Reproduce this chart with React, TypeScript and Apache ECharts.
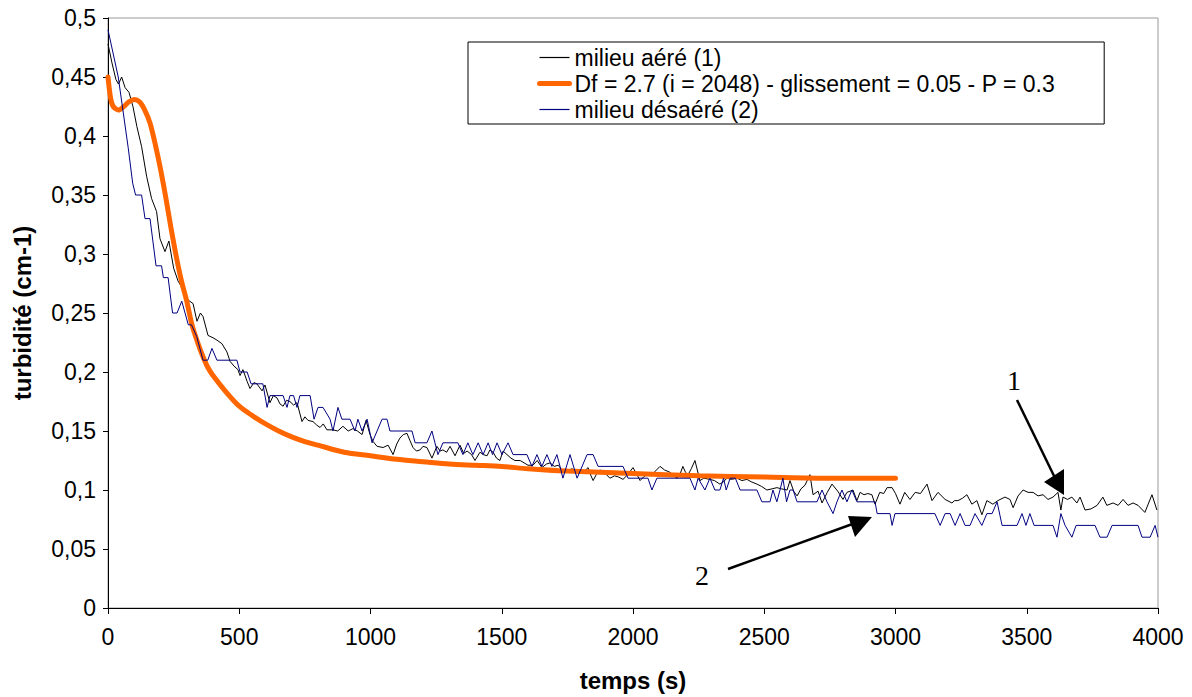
import React, { useEffect, useRef } from "react";
import * as echarts from "echarts";

const xTicks = [0, 500, 1000, 1500, 2000, 2500, 3000, 3500, 4000];
const yTicks = [0, 0.05, 0.1, 0.15, 0.2, 0.25, 0.3, 0.35, 0.4, 0.45, 0.5];

const seriesNames = [
  "milieu aéré (1)",
  "Df = 2.7 (i = 2048) - glissement = 0.05 - P = 0.3",
  "milieu désaéré (2)",
];

const aere: number[][] = [
  [0, 0.478], [15, 0.462], [30, 0.448], [40, 0.444], [52, 0.45], [65, 0.441], [80, 0.437], [95, 0.425],
  [110, 0.408], [128, 0.391], [147, 0.366], [166, 0.347], [185, 0.336], [198, 0.313], [217, 0.302],
  [232, 0.311], [250, 0.288], [267, 0.277], [286, 0.27], [305, 0.261], [324, 0.258], [339, 0.243],
  [352, 0.25], [362, 0.247], [381, 0.231], [400, 0.229], [415, 0.227], [434, 0.224], [453, 0.217],
  [465, 0.209], [480, 0.205], [495, 0.202], [503, 0.197], [514, 0.202], [530, 0.192], [541, 0.186],
  [556, 0.191], [567, 0.19], [587, 0.184], [598, 0.189], [617, 0.174], [630, 0.18], [644, 0.178],
  [655, 0.173], [667, 0.171], [680, 0.176], [693, 0.175], [707, 0.172], [720, 0.174], [739, 0.158],
  [750, 0.162], [762, 0.159], [781, 0.158], [795, 0.155], [808, 0.153], [820, 0.156], [834, 0.151],
  [857, 0.151], [875, 0.15], [895, 0.154], [915, 0.15], [933, 0.152], [950, 0.15], [968, 0.147],
  [983, 0.159], [998, 0.147], [1010, 0.141], [1025, 0.137], [1048, 0.136], [1067, 0.138], [1086, 0.13],
  [1100, 0.139], [1112, 0.144], [1125, 0.147], [1139, 0.148], [1150, 0.142], [1162, 0.136], [1175, 0.133],
  [1189, 0.134], [1200, 0.137], [1215, 0.136], [1234, 0.127], [1253, 0.137], [1265, 0.133], [1276, 0.134],
  [1290, 0.132], [1303, 0.137], [1322, 0.129], [1341, 0.138], [1355, 0.131], [1368, 0.133], [1385, 0.13],
  [1398, 0.125], [1417, 0.132], [1430, 0.13], [1444, 0.129], [1455, 0.134], [1467, 0.132], [1480, 0.127],
  [1493, 0.125], [1505, 0.133], [1520, 0.13], [1535, 0.127], [1550, 0.125], [1570, 0.125], [1585, 0.123],
  [1600, 0.121], [1619, 0.121], [1635, 0.125], [1653, 0.119], [1670, 0.122], [1684, 0.123], [1700, 0.12],
  [1715, 0.121], [1730, 0.117], [1749, 0.115], [1765, 0.118], [1780, 0.117], [1798, 0.116], [1815, 0.116],
  [1829, 0.119], [1840, 0.112], [1848, 0.108], [1860, 0.113], [1874, 0.117], [1890, 0.115], [1912, 0.11],
  [1930, 0.112], [1945, 0.111], [1962, 0.109], [1980, 0.113], [2000, 0.119], [2015, 0.113], [2027, 0.108],
  [2040, 0.111], [2053, 0.113], [2070, 0.112], [2085, 0.116], [2103, 0.12], [2120, 0.117], [2141, 0.115],
  [2155, 0.112], [2168, 0.11], [2180, 0.114], [2190, 0.12], [2200, 0.115], [2210, 0.113], [2222, 0.118],
  [2236, 0.125], [2255, 0.108], [2270, 0.11], [2293, 0.109], [2310, 0.108], [2331, 0.105], [2345, 0.107],
  [2358, 0.11], [2375, 0.109], [2396, 0.11], [2415, 0.108], [2434, 0.109], [2450, 0.107], [2472, 0.105],
  [2490, 0.103], [2510, 0.1], [2530, 0.101], [2548, 0.102], [2565, 0.101], [2587, 0.1], [2598, 0.108],
  [2612, 0.099], [2625, 0.095], [2640, 0.101], [2655, 0.104], [2674, 0.113], [2686, 0.096], [2705, 0.099],
  [2720, 0.089], [2740, 0.098], [2758, 0.105], [2780, 0.099], [2800, 0.092], [2815, 0.098], [2827, 0.099],
  [2838, 0.1], [2853, 0.091], [2865, 0.098], [2880, 0.096], [2895, 0.097], [2910, 0.096], [2922, 0.088],
  [2940, 0.098], [2955, 0.097], [2968, 0.102], [2987, 0.102], [3000, 0.097], [3017, 0.088], [3035, 0.098],
  [3055, 0.092], [3075, 0.098], [3095, 0.097], [3120, 0.105], [3139, 0.091], [3162, 0.098], [3189, 0.092],
  [3215, 0.089], [3225, 0.091], [3238, 0.091], [3255, 0.093], [3272, 0.096], [3291, 0.088], [3310, 0.091],
  [3329, 0.079], [3348, 0.091], [3371, 0.088], [3390, 0.091], [3417, 0.094], [3436, 0.092], [3448, 0.085],
  [3467, 0.095], [3486, 0.1], [3505, 0.098], [3524, 0.098], [3543, 0.095], [3562, 0.096], [3581, 0.092],
  [3600, 0.094], [3619, 0.098], [3630, 0.083], [3638, 0.094], [3655, 0.092], [3672, 0.094], [3691, 0.089],
  [3703, 0.094], [3722, 0.083], [3745, 0.084], [3768, 0.087], [3790, 0.094], [3805, 0.087], [3829, 0.089],
  [3848, 0.087], [3867, 0.092], [3886, 0.087], [3905, 0.089], [3924, 0.087], [3950, 0.081], [3977, 0.096],
  [3996, 0.083],
];

const modele: number[][] = [
  [0, 0.45], [10, 0.432], [20, 0.425], [40, 0.422], [60, 0.425], [80, 0.429], [100, 0.431], [120, 0.429],
  [140, 0.422], [160, 0.411], [180, 0.393], [200, 0.372], [220, 0.348], [240, 0.322], [260, 0.298],
  [280, 0.277], [300, 0.26], [320, 0.24], [340, 0.226], [360, 0.214], [380, 0.204], [400, 0.197],
  [450, 0.183], [500, 0.171], [550, 0.163], [600, 0.156], [650, 0.15], [700, 0.145], [750, 0.141],
  [800, 0.138], [900, 0.132], [1000, 0.129], [1100, 0.126], [1200, 0.124], [1300, 0.122], [1400, 0.121],
  [1500, 0.12], [1600, 0.118], [1750, 0.116], [2000, 0.114], [2250, 0.112], [2500, 0.111], [2750, 0.11],
  [3000, 0.11],
];

const desaere: number[][] = [
  [0, 0.49], [39, 0.45], [77, 0.39], [94, 0.36], [105, 0.35], [128, 0.35], [141, 0.33], [160, 0.33],
  [183, 0.29], [204, 0.29], [211, 0.28], [229, 0.28], [246, 0.25], [263, 0.25], [281, 0.26], [306, 0.24],
  [318, 0.24], [338, 0.23], [350, 0.22], [362, 0.21], [380, 0.21], [396, 0.22], [415, 0.21], [491, 0.21],
  [503, 0.2], [530, 0.2], [545, 0.19], [590, 0.19], [606, 0.17], [617, 0.18], [667, 0.18], [682, 0.17],
  [693, 0.18], [707, 0.18], [720, 0.17], [731, 0.18], [770, 0.18], [785, 0.16], [800, 0.17], [819, 0.17],
  [846, 0.16], [857, 0.15], [876, 0.17], [891, 0.16], [922, 0.16], [941, 0.15], [952, 0.16], [968, 0.15],
  [987, 0.16], [1006, 0.14], [1025, 0.15], [1044, 0.16], [1063, 0.16], [1074, 0.15], [1158, 0.15],
  [1170, 0.14], [1215, 0.14], [1234, 0.15], [1257, 0.13], [1276, 0.14], [1333, 0.14], [1352, 0.13],
  [1371, 0.14], [1390, 0.13], [1410, 0.14], [1429, 0.13], [1448, 0.14], [1465, 0.13], [1482, 0.14],
  [1501, 0.13], [1524, 0.14], [1543, 0.13], [1596, 0.13], [1615, 0.12], [1634, 0.13], [1653, 0.12],
  [1672, 0.13], [1691, 0.12], [1710, 0.13], [1722, 0.12], [1733, 0.11], [1760, 0.13], [1787, 0.11],
  [1825, 0.13], [1848, 0.13], [1867, 0.12], [1962, 0.12], [1981, 0.11], [2057, 0.11], [2072, 0.1],
  [2091, 0.11], [2217, 0.11], [2236, 0.1], [2248, 0.11], [2274, 0.1], [2293, 0.11], [2312, 0.1],
  [2331, 0.1], [2345, 0.11], [2355, 0.1], [2370, 0.11], [2390, 0.11], [2408, 0.1], [2472, 0.1],
  [2491, 0.09], [2522, 0.09], [2533, 0.1], [2548, 0.09], [2560, 0.1], [2571, 0.11], [2585, 0.09],
  [2598, 0.1], [2610, 0.1], [2625, 0.09], [2701, 0.09], [2720, 0.1], [2739, 0.09], [2762, 0.08],
  [2777, 0.09], [2796, 0.1], [2815, 0.09], [2834, 0.1], [2853, 0.09], [2922, 0.09], [2930, 0.08],
  [2979, 0.08], [2987, 0.07], [2998, 0.08], [3150, 0.08], [3170, 0.07], [3189, 0.08], [3208, 0.08],
  [3227, 0.07], [3246, 0.08], [3265, 0.07], [3284, 0.07], [3303, 0.08], [3329, 0.07], [3348, 0.08],
  [3368, 0.08], [3387, 0.09], [3406, 0.07], [3463, 0.07], [3482, 0.08], [3497, 0.07], [3512, 0.08],
  [3528, 0.07], [3600, 0.07], [3615, 0.06], [3630, 0.08], [3646, 0.07], [3672, 0.06], [3688, 0.07],
  [3760, 0.07], [3779, 0.06], [3806, 0.06], [3825, 0.07], [3924, 0.07], [3939, 0.06], [3970, 0.06],
  [3989, 0.07], [4000, 0.06],
];

const FONT = "'Liberation Sans', Arial, sans-serif";
const SERIF = "'Liberation Serif', 'Times New Roman', serif";

export default function App() {
  const ref = useRef<HTMLDivElement>(null);
  useEffect(() => {
    if (!ref.current) return;
    const chart = echarts.init(ref.current, undefined, { renderer: "svg" });
    chart.setOption({
      animation: false,
      backgroundColor: "#fff",
      textStyle: { fontFamily: FONT },
      grid: {
        left: 108, right: 34, top: 18, bottom: 86,
        show: true, borderColor: "#999", borderWidth: 1, backgroundColor: "transparent",
      },
      legend: {
        orient: "vertical",
        left: 468, top: 42,
        padding: [4, 49, 3, 69],
        itemWidth: 30, itemHeight: 14, itemGap: 3,
        backgroundColor: "#fff",
        borderColor: "#000", borderWidth: 1,
        itemStyle: { opacity: 0 },
        textStyle: { fontFamily: FONT, fontSize: 23, color: "#000" },
        data: [
          { name: seriesNames[0], lineStyle: { width: 1.2 } },
          { name: seriesNames[1], lineStyle: { width: 5 } },
          { name: seriesNames[2], lineStyle: { width: 1.2 } },
        ],
      },
      xAxis: {
        type: "value", min: xTicks[0], max: xTicks[xTicks.length - 1], interval: 500,
        name: "temps (s)", nameLocation: "middle", nameGap: 60,
        nameTextStyle: { fontFamily: FONT, fontSize: 24, fontWeight: "bold", color: "#000" },
        axisLine: { show: true, onZero: false, lineStyle: { color: "#000", width: 1 } },
        axisTick: { show: true, inside: false, length: 6, lineStyle: { color: "#000" } },
        axisLabel: {
          fontFamily: FONT, fontSize: 23, color: "#000", margin: 17,
          formatter: (v: number) => String(v),
        },
        splitLine: { show: false },
      },
      yAxis: {
        type: "value", min: yTicks[0], max: yTicks[yTicks.length - 1], interval: 0.05,
        name: "turbidité (cm-1)", nameLocation: "middle", nameGap: 74, nameRotate: 90,
        nameTextStyle: { fontFamily: FONT, fontSize: 24, fontWeight: "bold", color: "#000" },
        axisLine: { show: true, onZero: false, lineStyle: { color: "#000", width: 1 } },
        axisTick: { show: true, inside: false, length: 5, lineStyle: { color: "#000" } },
        axisLabel: {
          fontFamily: FONT, fontSize: 23, color: "#000", margin: 12,
          formatter: (v: number) => String(+v.toFixed(2)).replace(".", ","),
        },
        splitLine: { show: false },
      },
      series: [
        {
          name: seriesNames[0], type: "line", data: aere, symbol: "none",
          lineStyle: { color: "#000", width: 1 }, itemStyle: { color: "#000" },
        },
        {
          name: seriesNames[1], type: "line", data: modele, symbol: "none", smooth: 0.3,
          lineStyle: { color: "#ff6600", width: 5, cap: "round" }, itemStyle: { color: "#ff6600" },
        },
        {
          name: seriesNames[2], type: "line", data: desaere, symbol: "none",
          lineStyle: { color: "#000080", width: 1 }, itemStyle: { color: "#000080" },
        },
      ],
      graphic: [
        { type: "text", left: 1007, top: 366, style: { text: "1", font: `28px ${SERIF}`, fill: "#000" } },
        { type: "line", shape: { x1: 1017, y1: 400, x2: 1056, y2: 480 }, style: { stroke: "#000", lineWidth: 2.5 } },
        { type: "polygon", shape: { points: [[1064, 495], [1044, 482], [1064, 469]] }, style: { fill: "#000" } },
        { type: "text", left: 695, top: 561, style: { text: "2", font: `28px ${SERIF}`, fill: "#000" } },
        { type: "line", shape: { x1: 728, y1: 569, x2: 858, y2: 522 }, style: { stroke: "#000", lineWidth: 2.5 } },
        { type: "polygon", shape: { points: [[872, 517], [848, 516], [855, 537]] }, style: { fill: "#000" } },
      ],
    });
    return () => chart.dispose();
  }, []);
  return (
    <div
      ref={ref}
      style={{ position: "fixed", left: 0, top: 0, width: 1192, height: 697, background: "#fff" }}
    />
  );
}
